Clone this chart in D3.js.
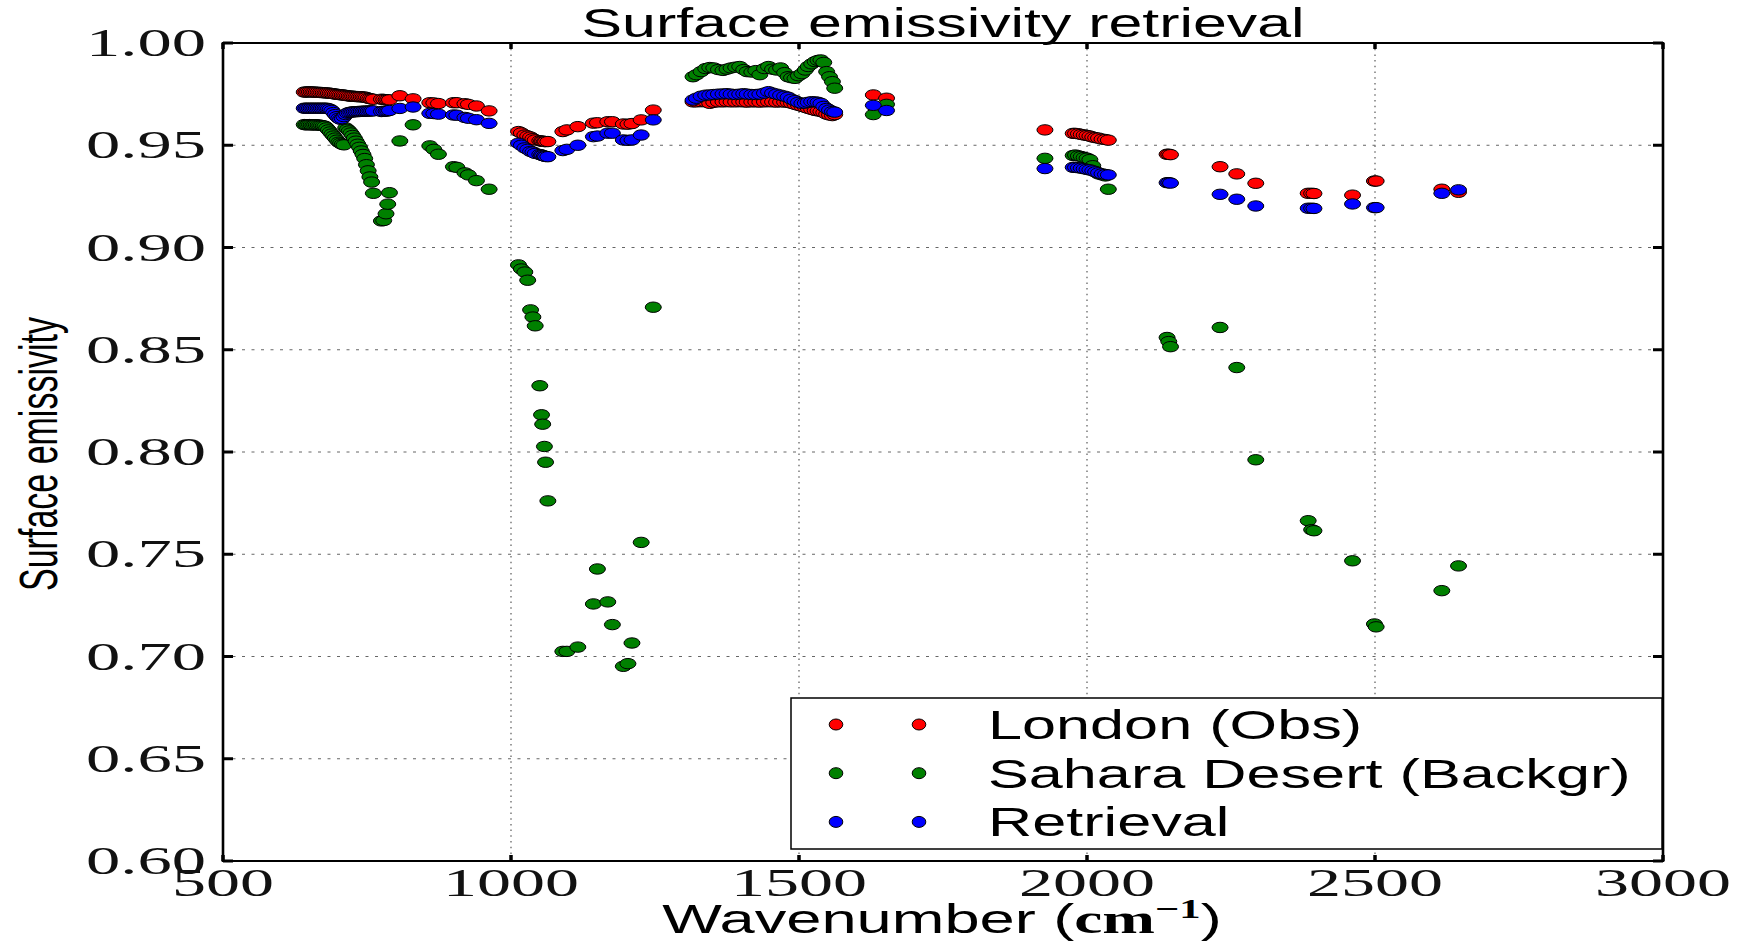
<!DOCTYPE html>
<html>
<head>
<meta charset="utf-8">
<script src="https://cdn.jsdelivr.net/npm/d3@7"></script>
<style>
body { margin: 0; background: #fff; }
svg { display: block; }
</style>
</head>
<body>
<svg width="1737" height="941"></svg>
<script>
// channel wavenumbers (cm-1), shared by all three series
var wavenumber = [
  641, 644, 647, 650, 653, 656, 659, 662, 665, 668, 671, 674, 677, 680, 683, 686,
  689, 692, 695, 698, 701, 704, 707, 710, 713, 716,
  719, 722, 725, 728, 731, 734, 737, 740, 743, 746, 749, 752, 755, 758, 761,
  775, 779, 783, 786, 789, 807, 830, 859, 866, 874, 900, 906, 920, 926, 940, 962,
  1013, 1018, 1024, 1029, 1034, 1038, 1042, 1050, 1053, 1055, 1058, 1060, 1064,
  1090, 1097, 1116, 1143, 1150, 1168, 1176, 1195, 1203, 1210, 1226, 1247,
  1316, 1322, 1330, 1338, 1345, 1352, 1360, 1368, 1375, 1382, 1390, 1397, 1404,
  1410, 1418, 1425, 1432, 1440, 1447, 1454, 1461, 1468, 1475, 1481, 1487, 1493,
  1499, 1505, 1511, 1516, 1522, 1528, 1533, 1538, 1543, 1548, 1553, 1558, 1562,
  1629, 1652,
  1927, 1976, 1980, 1985, 1990, 1995, 2000, 2005, 2010, 2015, 2020, 2026, 2032, 2037,
  2139, 2142, 2145, 2231, 2260, 2293, 2384, 2390, 2394, 2461, 2499, 2502, 2616, 2645
];

var london = [
  0.9760, 0.9760, 0.9761, 0.9761, 0.9761, 0.9760, 0.9760, 0.9759, 0.9759, 0.9758, 0.9758, 0.9757, 0.9756, 0.9756, 0.9755, 0.9754,
  0.9753, 0.9752, 0.9750, 0.9749, 0.9748, 0.9747, 0.9746, 0.9745, 0.9744, 0.9742,
  0.9741, 0.9740, 0.9740, 0.9739, 0.9738, 0.9738, 0.9737, 0.9737, 0.9736, 0.9735, 0.9734, 0.9730, 0.9728, 0.9726, 0.9725,
  0.9725, 0.9724, 0.9723, 0.9722, 0.9722, 0.9742, 0.9727, 0.9708, 0.9707, 0.9704, 0.9708, 0.9708, 0.9703, 0.9700, 0.9692, 0.9668,
  0.9567, 0.9560, 0.9550, 0.9545, 0.9540, 0.9532, 0.9526, 0.9522, 0.9520, 0.9520, 0.9518, 0.9518, 0.9518,
  0.9567, 0.9575, 0.9591, 0.9608, 0.9610, 0.9615, 0.9615, 0.9604, 0.9603, 0.9606, 0.9624, 0.9672,
  0.9712, 0.9712, 0.9713, 0.9712, 0.9705, 0.9710, 0.9712, 0.9712, 0.9713, 0.9712, 0.9712, 0.9713, 0.9712,
  0.9711, 0.9712, 0.9712, 0.9711, 0.9712, 0.9713, 0.9712, 0.9711, 0.9712, 0.9711, 0.9710, 0.9705, 0.9700,
  0.9695, 0.9690, 0.9685, 0.9680, 0.9675, 0.9670, 0.9668, 0.9665, 0.9660, 0.9652, 0.9648, 0.9645, 0.9650,
  0.9746, 0.9730,
  0.9575, 0.9558, 0.9558, 0.9556, 0.9553, 0.9550, 0.9548, 0.9545, 0.9540, 0.9537, 0.9535, 0.9530, 0.9528, 0.9525,
  0.9456, 0.9456, 0.9454, 0.9395, 0.9360, 0.9314, 0.9265, 0.9265, 0.9264, 0.9256, 0.9325, 0.9325, 0.9285, 0.9270
];

var sahara = [
  0.9601, 0.9600, 0.9600, 0.9601, 0.9600, 0.9599, 0.9600, 0.9600, 0.9599, 0.9598, 0.9597, 0.9595, 0.9593, 0.9585, 0.9575, 0.9565,
  0.9555, 0.9545, 0.9535, 0.9525, 0.9515, 0.9510, 0.9505, 0.9502, 0.9585, 0.9578,
  0.9570, 0.9560, 0.9548, 0.9535, 0.9520, 0.9505, 0.9490, 0.9472, 0.9455, 0.9435, 0.9405, 0.9375, 0.9345, 0.9320, 0.9265,
  0.9130, 0.9132, 0.9165, 0.9212, 0.9268, 0.9521, 0.9600, 0.9497, 0.9480, 0.9456, 0.9395, 0.9392, 0.9365, 0.9355, 0.9327, 0.9285,
  0.8915, 0.8895, 0.8880, 0.8840, 0.8695, 0.8660, 0.8617, 0.8324, 0.8182, 0.8136, 0.8027, 0.7950, 0.7761,
  0.7025, 0.7025, 0.7046, 0.7257, 0.7428, 0.7267, 0.7156, 0.6952, 0.6965, 0.7066, 0.7558, 0.8708,
  0.9835, 0.9845, 0.9860, 0.9875, 0.9880, 0.9878, 0.9870, 0.9866, 0.9872, 0.9878, 0.9882, 0.9885, 0.9870,
  0.9860, 0.9858, 0.9865, 0.9845, 0.9875, 0.9885, 0.9872, 0.9868, 0.9878, 0.9855, 0.9835, 0.9830, 0.9827,
  0.9840, 0.9850, 0.9868, 0.9885, 0.9898, 0.9909, 0.9915, 0.9917, 0.9905, 0.9860, 0.9835, 0.9811, 0.9779,
  0.9650, 0.9700,
  0.9436, 0.9450, 0.9452, 0.9448, 0.9445, 0.9440, 0.9437, 0.9430, 0.9400, 0.9370, 0.9360, 0.9355, 0.9350, 0.9285,
  0.8560, 0.8540, 0.8515, 0.8609, 0.8413, 0.7962, 0.7664, 0.7620, 0.7615, 0.7468, 0.7159, 0.7145, 0.7322, 0.7443
];

var retrieval = [
  0.9681, 0.9681, 0.9681, 0.9681, 0.9681, 0.9681, 0.9681, 0.9681, 0.9681, 0.9681, 0.9681, 0.9681, 0.9681, 0.9681, 0.9679, 0.9676,
  0.9670, 0.9660, 0.9650, 0.9640, 0.9632, 0.9627, 0.9630, 0.9640, 0.9650, 0.9657,
  0.9660, 0.9662, 0.9663, 0.9664, 0.9664, 0.9665, 0.9665, 0.9666, 0.9666, 0.9667, 0.9667, 0.9667, 0.9668, 0.9668, 0.9668,
  0.9665, 0.9666, 0.9667, 0.9668, 0.9670, 0.9680, 0.9687, 0.9656, 0.9655, 0.9652, 0.9648, 0.9647, 0.9636, 0.9632, 0.9625, 0.9607,
  0.9510, 0.9500, 0.9487, 0.9480, 0.9470, 0.9467, 0.9460, 0.9455, 0.9452, 0.9450, 0.9447, 0.9445, 0.9444,
  0.9474, 0.9480, 0.9500, 0.9542, 0.9545, 0.9559, 0.9559, 0.9526, 0.9524, 0.9526, 0.9550, 0.9624,
  0.9721, 0.9730, 0.9740, 0.9745, 0.9746, 0.9748, 0.9750, 0.9751, 0.9752, 0.9750, 0.9748, 0.9750, 0.9752,
  0.9750, 0.9748, 0.9748, 0.9750, 0.9755, 0.9762, 0.9755, 0.9750, 0.9745, 0.9740, 0.9735, 0.9725, 0.9718,
  0.9710, 0.9705, 0.9706, 0.9710, 0.9713, 0.9712, 0.9710, 0.9705, 0.9690, 0.9680, 0.9672, 0.9665, 0.9662,
  0.9695, 0.9670,
  0.9386, 0.9392, 0.9392, 0.9390, 0.9388, 0.9385, 0.9382, 0.9380, 0.9375, 0.9370, 0.9365, 0.9360, 0.9357, 0.9355,
  0.9317, 0.9317, 0.9315, 0.9260, 0.9236, 0.9203, 0.9192, 0.9192, 0.9191, 0.9213, 0.9195, 0.9195, 0.9265, 0.9282
];

var seriesNames = ["London (Obs)", "Sahara Desert (Backgr)", "Retrieval"];
var seriesColors = ["#ff0000", "#008000", "#0000ff"];
var xTicks = [500, 1000, 1500, 2000, 2500, 3000];
var yTicks = [0.60, 0.65, 0.70, 0.75, 0.80, 0.85, 0.90, 0.95, 1.00];

var svg = d3.select("svg");
var width = +svg.attr("width");
var height = +svg.attr("height");

var x = d3.scaleLinear().domain([500, 3000]).range([223, 1663]);
var y = d3.scaleLinear().domain([0.60, 1.00]).range([861, 43]);

var sans = "'Liberation Sans', Arial, sans-serif";
var serif = "'Liberation Serif', 'Times New Roman', serif";

svg.append("rect")
    .attr("width", width)
    .attr("height", height)
    .attr("fill", "white");

// dotted grid
var grid = svg.append("g").attr("class", "grid");
grid.selectAll("line.v").data(xTicks.slice(1, -1)).enter().append("line")
    .attr("class", "v")
    .attr("x1", function(d) { return x(d); })
    .attr("x2", function(d) { return x(d); })
    .attr("y1", y(1.0))
    .attr("y2", y(0.6))
    .attr("stroke", "#666")
    .attr("stroke-width", 1.3)
    .attr("stroke-dasharray", "1.5,4.2");
grid.selectAll("line.h").data(yTicks.slice(1, -1)).enter().append("line")
    .attr("class", "h")
    .attr("x1", x(500))
    .attr("x2", x(3000))
    .attr("y1", function(d) { return y(d); })
    .attr("y2", function(d) { return y(d); })
    .attr("stroke", "#666")
    .attr("stroke-width", 1)
    .attr("stroke-dasharray", "3,6.5");

// scatter points, one group per series
var seriesValues = [london, sahara, retrieval];
var points = svg.append("g").attr("class", "points");
seriesValues.forEach(function(vals, k) {
    var rows = wavenumber.map(function(w, i) { return {w: w, v: vals[i]}; });
    points.append("g").selectAll("ellipse").data(rows).enter().append("ellipse")
        .attr("cx", function(d) { return x(d.w); })
        .attr("cy", function(d) { return y(d.v); })
        .attr("rx", 8)
        .attr("ry", 5.2)
        .attr("fill", seriesColors[k])
        .attr("stroke", "#000")
        .attr("stroke-width", 1);
});

// frame
var frame = svg.append("g").attr("class", "frame").attr("stroke", "#000");
frame.append("line").attr("x1", x(500)).attr("x2", x(3000)).attr("y1", y(1)).attr("y2", y(1)).attr("stroke-width", 2);
frame.append("line").attr("x1", x(500)).attr("x2", x(3000)).attr("y1", y(0.6)).attr("y2", y(0.6)).attr("stroke-width", 2);
frame.append("line").attr("x1", x(500)).attr("x2", x(500)).attr("y1", y(1) - 1).attr("y2", y(0.6) + 1).attr("stroke-width", 2.6);
frame.append("line").attr("x1", x(3000)).attr("x2", x(3000)).attr("y1", y(1) - 1).attr("y2", y(0.6) + 1).attr("stroke-width", 2.6);

// ticks, pointing inwards on all four sides
frame.selectAll("line.yt").data(yTicks).enter().append("line")
    .attr("x1", x(500)).attr("x2", x(500) + 10)
    .attr("y1", function(d) { return y(d); }).attr("y2", function(d) { return y(d); })
    .attr("stroke-width", 3);
frame.selectAll("line.yt2").data(yTicks).enter().append("line")
    .attr("x1", x(3000) - 10).attr("x2", x(3000))
    .attr("y1", function(d) { return y(d); }).attr("y2", function(d) { return y(d); })
    .attr("stroke-width", 3);
frame.selectAll("line.xt").data(xTicks).enter().append("line")
    .attr("x1", function(d) { return x(d); }).attr("x2", function(d) { return x(d); })
    .attr("y1", y(0.6)).attr("y2", y(0.6) - 6)
    .attr("stroke-width", 3.5);
frame.selectAll("line.xt2").data(xTicks).enter().append("line")
    .attr("x1", function(d) { return x(d); }).attr("x2", function(d) { return x(d); })
    .attr("y1", y(1)).attr("y2", y(1) + 6)
    .attr("stroke-width", 3.5);

// tick labels (wide serif digits)
function numLen(s) {
    return s.split("").reduce(function(a, c) { return a + (c === "." ? 18 : 34); }, 0);
}
var yFmt = d3.format(".2f");
svg.append("g").selectAll("text").data(yTicks).enter().append("text")
    .attr("x", function(d) { return 206 - numLen(yFmt(d)); })
    .attr("y", function(d) { return y(d) + 13; })
    .attr("textLength", function(d) { return numLen(yFmt(d)); })
    .attr("lengthAdjust", "spacingAndGlyphs")
    .attr("font-family", serif)
    .attr("font-size", 39)
    .attr("fill", "#111")
    .text(yFmt);
svg.append("g").selectAll("text").data(xTicks).enter().append("text")
    .attr("x", function(d) { return x(d) - numLen(String(d)) / 2; })
    .attr("y", 896)
    .attr("textLength", function(d) { return numLen(String(d)); })
    .attr("lengthAdjust", "spacingAndGlyphs")
    .attr("font-family", serif)
    .attr("font-size", 39)
    .attr("fill", "#111")
    .text(function(d) { return d; });

// title
svg.append("text")
    .attr("transform", "translate(943,37) scale(1.52,1)")
    .attr("text-anchor", "middle")
    .attr("font-family", sans)
    .attr("font-size", 40)
    .text("Surface emissivity retrieval");

// y label
svg.append("text")
    .attr("transform", "translate(57,454) scale(1.6,1) rotate(-90)")
    .attr("text-anchor", "middle")
    .attr("font-family", sans)
    .attr("font-size", 34)
    .text("Surface emissivity");

// x label
var xl = svg.append("text")
    .attr("transform", "translate(942,933) scale(1.58,1)")
    .attr("text-anchor", "middle")
    .attr("font-family", sans)
    .attr("font-size", 40);
xl.append("tspan").text("Wavenumber (");
xl.append("tspan").attr("font-family", serif).attr("font-weight", "bold").text("cm");
xl.append("tspan").attr("font-family", serif).attr("font-weight", "bold").attr("font-size", 27).attr("dy", -15).text("\u22121");
xl.append("tspan").attr("dy", 15).text(")");

// legend
var legend = svg.append("g").attr("class", "legend");
legend.append("rect")
    .attr("x", 791).attr("y", 698)
    .attr("width", 871).attr("height", 151)
    .attr("fill", "white")
    .attr("stroke", "#000")
    .attr("stroke-width", 1.5);
var entry = legend.selectAll("g.entry").data(seriesNames).enter().append("g")
    .attr("class", "entry")
    .attr("transform", function(d, i) { return "translate(0," + (724.5 + i * 48.7) + ")"; });
[836, 919].forEach(function(mx) {
    entry.append("ellipse")
        .attr("cx", mx).attr("cy", 0)
        .attr("rx", 6.8).attr("ry", 5.5)
        .attr("fill", function(d, i) { return seriesColors[i]; })
        .attr("stroke", "#000")
        .attr("stroke-width", 1);
});
entry.append("text")
    .attr("transform", "translate(988,14.5) scale(1.53,1)")
    .attr("font-family", sans)
    .attr("font-size", 40)
    .text(function(d) { return d; });
</script>
</body>
</html>
